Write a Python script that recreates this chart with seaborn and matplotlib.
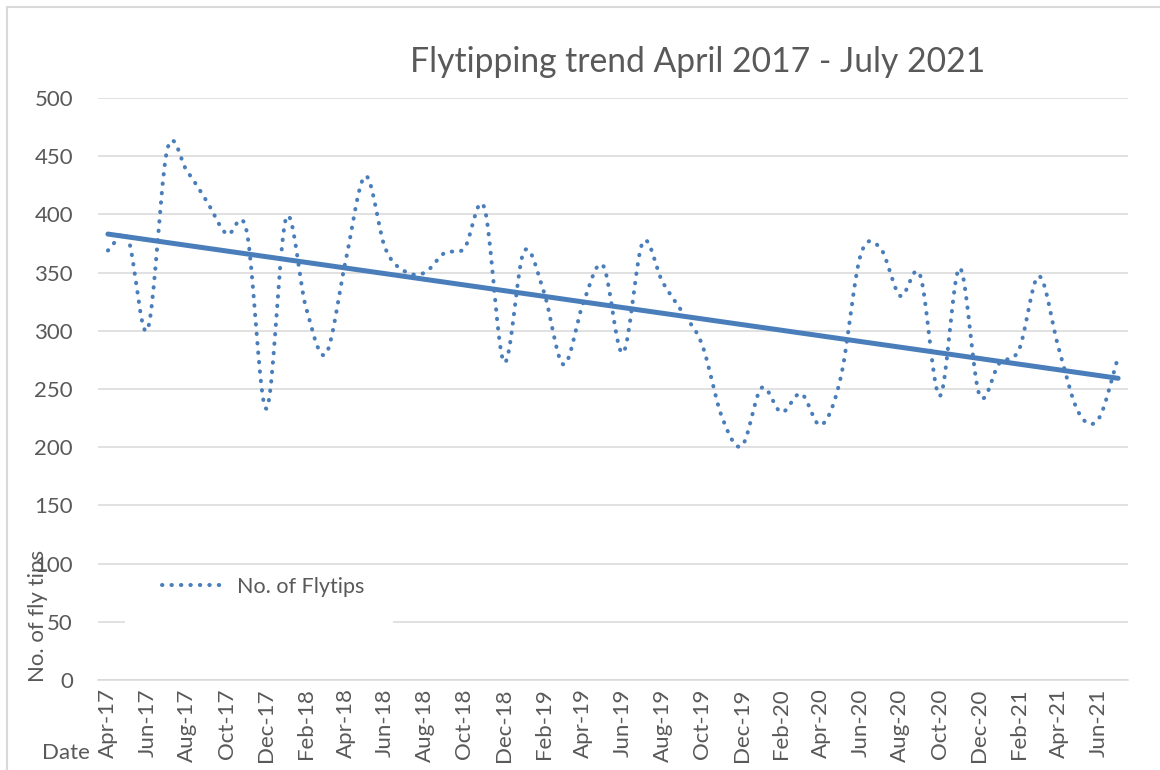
import numpy as np
import pandas as pd
import seaborn as sns
import matplotlib.pyplot as plt
from matplotlib.patches import Rectangle

# Monthly fly-tipping counts, Apr 2017 - Jul 2021
months = pd.date_range("2017-04-01", "2021-07-01", freq="MS").strftime("%b-%y").tolist()
flytips = [369, 380, 301, 456, 437, 411, 383, 386, 233, 397, 320, 280,
           360, 433, 371, 351, 350, 367, 371, 406, 273, 368, 334, 271,
           324, 356, 281, 376, 342, 316, 288, 226, 201, 251, 230, 246,
           219, 260, 365, 371, 330, 348, 244, 354, 245, 272, 284, 347,
           285, 230, 224, 277]

title = "Flytipping trend April 2017 - July 2021"
blue = "#4a7ebb"
grey_txt = "#595959"
grid_col = "#d9d9d9"


def smooth(x, y, n=20):
    # Excel-style smoothed line (uniform Catmull-Rom through every point)
    x = np.asarray(x, float)
    y = np.asarray(y, float)
    px = np.concatenate([[2 * x[0] - x[1]], x, [2 * x[-1] - x[-2]]])
    py = np.concatenate([[2 * y[0] - y[1]], y, [2 * y[-1] - y[-2]]])
    t = np.linspace(0, 1, n, endpoint=False)
    xs, ys = [], []
    for i in range(1, len(px) - 2):
        for p, out in ((px, xs), (py, ys)):
            p0, p1, p2, p3 = p[i - 1], p[i], p[i + 1], p[i + 2]
            out.append(0.5 * (2 * p1 + (-p0 + p2) * t
                              + (2 * p0 - 5 * p1 + 4 * p2 - p3) * t ** 2
                              + (-p0 + 3 * p1 - 3 * p2 + p3) * t ** 3))
    xs.append([x[-1]])
    ys.append([y[-1]])
    return np.concatenate(xs), np.concatenate(ys)


sns.set_style("white")
plt.rcParams["font.family"] = ["Lato", "DejaVu Sans"]

df = pd.DataFrame({"idx": np.arange(len(flytips)), "flytips": flytips})
sx, sy = smooth(df["idx"], df["flytips"])

fig = plt.figure(figsize=(11.6, 7.7), dpi=100)
ax = fig.add_axes([98 / 1160, 1 - 680 / 770, 1030 / 1160, 582 / 770])

# outer chart border (only left and top edges fall inside the picture)
fig.add_artist(Rectangle((7 / 1160, -0.1), 1.2, 1.1 - 7 / 770, transform=fig.transFigure,
                         fill=False, edgecolor=grid_col, linewidth=1.5))

sns.lineplot(x=sx, y=sy, sort=False, estimator=None, ax=ax, color=blue,
             linewidth=2.9, linestyle=(0, (0.1, 2.25)), dash_capstyle="round",
             label="No. of Flytips", zorder=3)
sns.regplot(data=df, x="idx", y="flytips", scatter=False, ci=None, ax=ax,
            line_kws=dict(color=blue, linewidth=3.6, zorder=4))

ax.set_xlim(-0.5, len(flytips) - 0.5)
ax.set_ylim(0, 500)
ax.set_yticks(np.arange(0, 501, 50))
ax.set_xticks(np.arange(0, len(months), 2))
ax.set_xticklabels(months[::2], rotation=90, va="top", ha="center")
ax.tick_params(axis="both", length=0, labelsize=16, labelcolor=grey_txt)
ax.tick_params(axis="y", pad=18)
ax.tick_params(axis="x", pad=6)
ax.set_xlabel("")
ax.set_ylabel("")

ax.set_axisbelow(True)
ax.yaxis.grid(True, color=grid_col, linewidth=1.1)
ax.xaxis.grid(False)
for side in ["top", "right", "left"]:
    ax.spines[side].set_visible(False)
ax.spines["bottom"].set_color(grid_col)
ax.spines["bottom"].set_linewidth(1.1)

# white legend area covering the gridline
ax.add_patch(Rectangle((0.026, 0.069), 0.26, 0.125, transform=ax.transAxes,
                       facecolor="white", edgecolor="none", zorder=1))
leg = ax.legend(loc="center left", bbox_to_anchor=(0.0621, 0.160), frameon=False,
                borderpad=0, borderaxespad=0, handlelength=3.0, handletextpad=0.5,
                fontsize=15.5)
for t in leg.get_texts():
    t.set_color(grey_txt)

fig.text(698 / 1160, 1 - 62 / 770, title, ha="center", va="center",
         fontsize=24.2, color=grey_txt)
fig.text(38 / 1160, 1 - 616 / 770, "No. of fly tips", rotation=90,
         ha="center", va="center", fontsize=16, color=grey_txt)
fig.text(66 / 1160, 1 - 753 / 770, "Date", ha="center", va="center",
         fontsize=16, color=grey_txt)

fig.savefig("out.png", dpi=100)
